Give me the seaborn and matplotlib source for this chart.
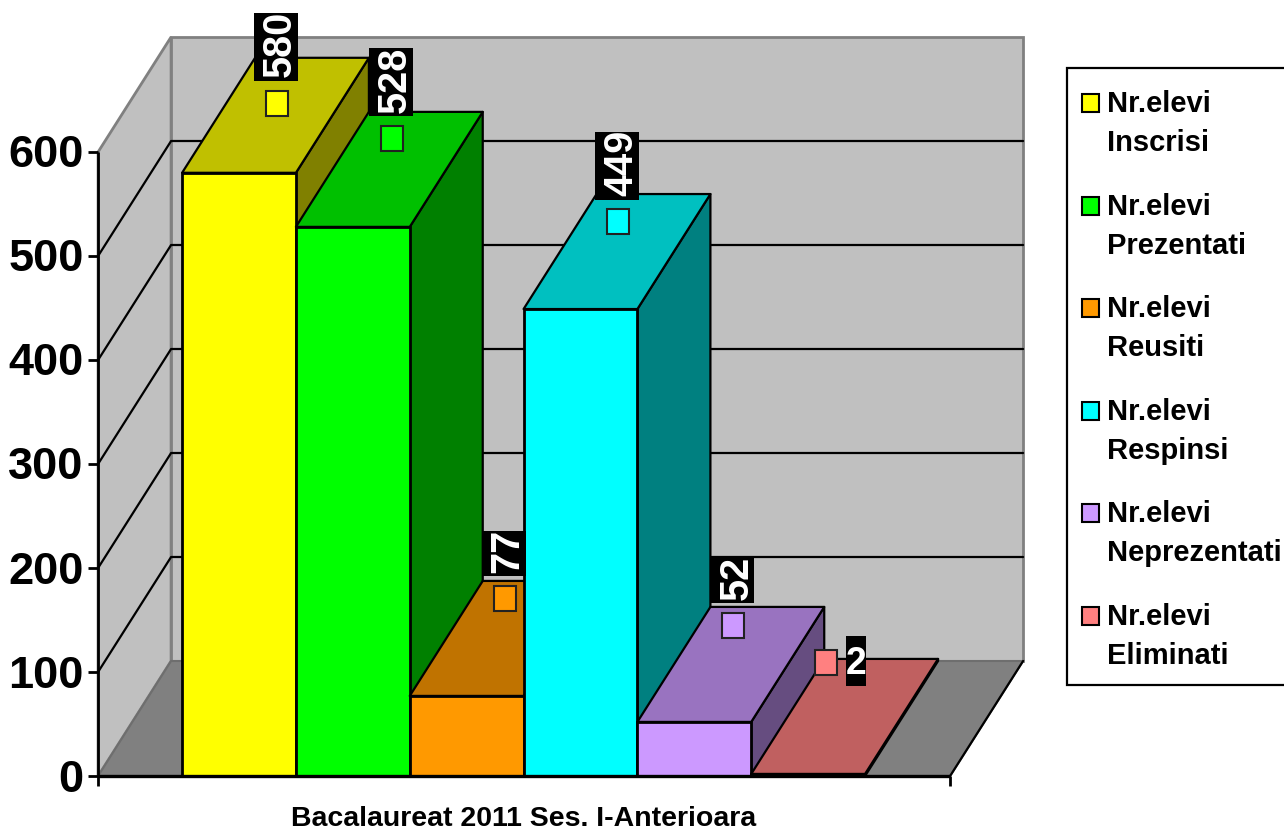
"""
Bacalaureat 2011 - Excel style 3D column chart, drawn on one full-figure axes.
Front faces come from seaborn, the depth faces are derived from the same values.
"""
import matplotlib.pyplot as plt
import matplotlib.transforms as mtransforms
import pandas as pd
import seaborn as sns
from matplotlib.patches import Polygon, Rectangle

# ── data ──────────────────────────────────────────────────────────────────────
CATEGORIES = ["Nr.elevi\nInscrisi", "Nr.elevi\nPrezentati", "Nr.elevi\nReusiti",
              "Nr.elevi\nRespinsi", "Nr.elevi\nNeprezentati", "Nr.elevi\nEliminati"]
VALUES = [580, 528, 77, 449, 52, 2]
Y_TICKS = [0, 100, 200, 300, 400, 500, 600]
X_TITLE = "Bacalaureat 2011 Ses. I-Anterioara"

FRONT = ["#FFFF00", "#00FF00", "#FF9900", "#00FFFF", "#CC99FF", "#FF8080"]
TOP = ["#C0C000", "#00C000", "#C07300", "#00C0C0", "#9973C0", "#C06060"]
SIDE = ["#808000", "#008000", "#804D00", "#008080", "#664D80", "#804040"]

# ── layout ────────────────────────────────────────────────────────────────────
W, H = 1284, 831
BAR_PX = 113.83            # pixels per category
VAL_PX = 1.04              # pixels per student
X0_PX, Y0_PX = 239.0, 776  # pixel position of category 0 centre / value 0
DX = 73 / BAR_PX           # depth offset in data units
DY = 115 / VAL_PX
LEFT = -1.238
RIGHT = 6.247
MARKER_RISE = [67, 85, 94, 84, 93, 107]      # key marker above the front top edge
MARKER_SHIFT = [0, 1, 0, 0, 1, -20]          # pixels, sideways from the top face centre
FS_TICK = 32.5
FS_LEGEND = 21
FS_TITLE = 20.5
FS_LABEL = 28.5
FS_LABEL_FLAT = 27

sns.set_theme(style="white")
plt.rcParams["font.family"] = ["Liberation Sans", "DejaVu Sans"]
plt.rcParams["font.weight"] = "bold"

fig = plt.figure(figsize=(W / 100, H / 100), dpi=100)
ax = fig.add_axes([0, 0, 1, 1])
px = mtransforms.Affine2D().scale(1, -1).translate(0, H)  # image pixels, y down

df = pd.DataFrame({"cat": CATEGORIES, "val": VALUES})
sns.barplot(data=df, x="cat", y="val", hue="cat", palette=FRONT, hue_order=CATEGORIES,
            order=CATEGORIES, width=1, dodge=False, legend=False, saturation=1,
            edgecolor="black", linewidth=2, ax=ax)
ax.set_xlim(-X0_PX / BAR_PX, (W - X0_PX) / BAR_PX)
ax.set_ylim(-(H - Y0_PX) / VAL_PX, Y0_PX / VAL_PX)
ax.axis("off")

# ── walls and floor ───────────────────────────────────────────────────────────
top_val = max(Y_TICKS)
wall = dict(facecolor="#C0C0C0", edgecolor="#808080", linewidth=2, zorder=1)
ax.add_patch(Polygon([(LEFT, 0), (LEFT, top_val), (LEFT + DX, top_val + DY), (LEFT + DX, DY)], **wall))
ax.add_patch(Polygon([(LEFT + DX, DY), (LEFT + DX, top_val + DY),
                      (RIGHT + DX, top_val + DY), (RIGHT + DX, DY)], **wall))
ax.add_patch(Polygon([(LEFT, 0), (RIGHT, 0), (RIGHT + DX, DY), (LEFT + DX, DY)],
                     facecolor="#808080", edgecolor="#6E6E6E", linewidth=1.5, zorder=1.1))

# gridlines run along the back wall and down the left wall
for v in Y_TICKS[1:-1]:
    ax.plot([LEFT, LEFT + DX, RIGHT + DX], [v, v + DY, v + DY], color="black", lw=1.6, zorder=1.5)

# ── depth faces ───────────────────────────────────────────────────────────────
edge = dict(edgecolor="black", linewidth=1.6, joinstyle="round")
for i, (v, bar) in enumerate(zip(VALUES, ax.patches)):
    l, r = i - 0.5, i + 0.5
    ax.add_patch(Polygon([(r, 0), (r, v), (r + DX, v + DY), (r + DX, DY)],
                         facecolor=SIDE[i], zorder=3 + i, **edge))
    ax.add_patch(Polygon([(l, v), (r, v), (r + DX, v + DY), (l + DX, v + DY)],
                         facecolor=TOP[i], zorder=3 + i, **edge))
    bar.set_zorder(3.5 + i)

# ── axis lines, ticks, tick labels ────────────────────────────────────────────
ax.plot([LEFT, LEFT], [-10, top_val], color="black", lw=2, zorder=12, solid_capstyle="butt")
ax.plot([LEFT, RIGHT], [0, 0], color="black", lw=2.4, zorder=12, solid_capstyle="butt")
ax.plot([RIGHT, RIGHT], [-10, 0], color="black", lw=2, zorder=12, solid_capstyle="butt")
ax.plot([RIGHT, RIGHT + DX], [0, DY], color="black", lw=1.6, zorder=12)
for v in Y_TICKS:
    ax.plot([LEFT - 10 / BAR_PX, LEFT], [v, v], color="black", lw=2, zorder=12, solid_capstyle="butt")
    ax.text(LEFT - 14.5 / BAR_PX, v - 4 / VAL_PX, str(v), ha="right", va="center",
            fontsize=FS_TICK, color="black")

ax.text(524, 819, X_TITLE, transform=px, ha="center", va="center", fontsize=FS_TITLE, color="black")

# ── data labels with their key markers ────────────────────────────────────────
for i, (v, rise, shift) in enumerate(zip(VALUES, MARKER_RISE, MARKER_SHIFT)):
    mx = i + (DX / 2) + (1.5 + shift) / BAR_PX
    my = v + rise
    ax.add_patch(Rectangle((mx - 11 / BAR_PX, my - 12.5 / VAL_PX), 22 / BAR_PX, 25 / VAL_PX,
                           facecolor=FRONT[i], edgecolor="#222222", linewidth=1.5, zorder=20))
    label = str(v)
    if len(label) == 1:
        cx, cy = mx + 30 / BAR_PX, my + 2 / VAL_PX
        bw, bh, rot, fs, tx, ty = 20, 50, 0, FS_LABEL_FLAT, 0, -3
    else:
        bw, bh, rot, fs = 44, 22.5 * len(label) + 0.5, 90, FS_LABEL
        cx, cy = mx - 1 / BAR_PX, my + (22 + bh / 2) / VAL_PX
        tx, ty = 4, 3
    ax.add_patch(Rectangle((cx - bw / 2 / BAR_PX, cy - bh / 2 / VAL_PX), bw / BAR_PX, bh / VAL_PX,
                           facecolor="black", edgecolor="none", zorder=21))
    ax.text(cx + tx / BAR_PX, cy + ty / VAL_PX, label, rotation=rot, ha="center", va="center",
            color="white", fontsize=fs, zorder=22)

# ── legend ────────────────────────────────────────────────────────────────────
ax.add_patch(Rectangle((1066.5, 67.5), 240, 617, transform=px, facecolor="white",
                       edgecolor="black", linewidth=1.6, zorder=2))
for i, name in enumerate(CATEGORIES):
    first, second = name.split("\n")
    y = 103 + 102.6 * i
    ax.add_patch(Rectangle((1082, y - 9), 17, 18, transform=px, facecolor=FRONT[i],
                           edgecolor="black", linewidth=1.5, zorder=3))
    ax.text(1107, y + 1, first, transform=px, ha="left", va="center", fontsize=FS_LEGEND, color="black")
    ax.text(1107, y + 40, second, transform=px, ha="left", va="center", fontsize=FS_LEGEND, color="black")

plt.savefig("out.png", dpi=100)
plt.close()
